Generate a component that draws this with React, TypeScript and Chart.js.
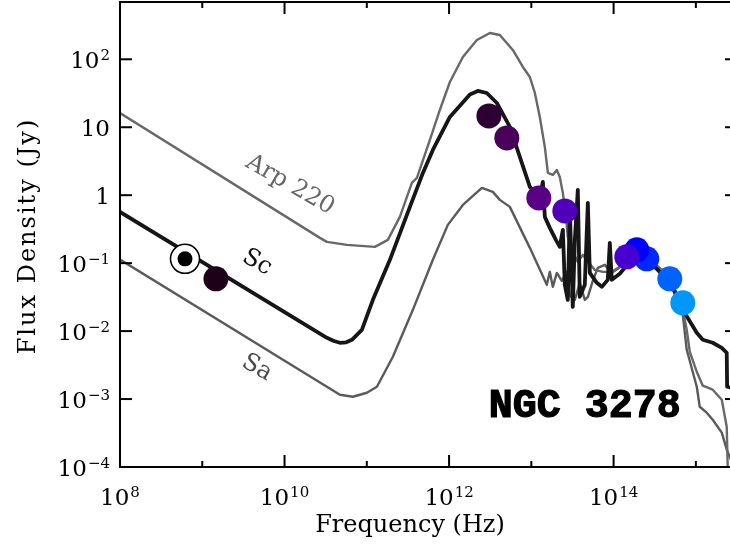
import { useEffect, useRef } from 'react';
import { Chart, registerables } from 'chart.js';

Chart.register(...registerables);

// Values, stored as log10(frequency / Hz) and log10(flux density / Jy)
const arpLogNu = [8.0, 10.43, 10.515, 10.758, 11.098, 11.256, 11.402, 11.548, 11.609, 11.767, 11.888, 12.01, 12.168, 12.338, 12.496, 12.617, 12.775, 12.897, 12.982, 13.043, 13.103, 13.164, 13.201, 13.261, 13.31, 13.346, 13.383, 13.419, 13.443, 13.492, 13.565, 13.626, 13.687, 13.772, 13.869, 13.978, 14.075, 14.172, 14.294, 14.416, 14.561, 14.707, 14.841, 14.889, 14.926, 15.011, 15.084, 15.205, 15.315, 15.375, 15.388];
const arpLogF = [1.21, -0.628, -0.687, -0.731, -0.76, -0.657, -0.319, 0.181, 0.254, 0.813, 1.254, 1.666, 2.034, 2.284, 2.387, 2.357, 2.137, 1.887, 1.74, 1.504, 1.151, 0.71, 0.328, 0.299, 0.372, 0.269, 0.034, -0.29, -0.613, -0.804, -0.981, -0.878, -0.981, -1.099, -1.128, -1.128, -1.054, -0.922, -0.834, -0.922, -1.069, -1.275, -1.687, -1.981, -2.304, -2.599, -2.804, -2.863, -3.01, -3.407, -4.05];

const scLogNu = [8.0, 10.515, 10.6, 10.673, 10.75, 10.819, 10.94, 11.074, 11.281, 11.524, 11.682, 11.803, 12.01, 12.253, 12.35, 12.459, 12.581, 12.739, 12.86, 12.982, 13.103, 13.14, 13.164, 13.225, 13.298, 13.346, 13.383, 13.407, 13.443, 13.468, 13.504, 13.529, 13.565, 13.589, 13.65, 13.687, 13.711, 13.796, 13.857, 13.929, 13.954, 13.978, 14.075, 14.136, 14.221, 14.318, 14.44, 14.561, 14.719, 14.841, 15.011, 15.084, 15.205, 15.315, 15.375, 15.38, 15.5];
const scLogF = [-0.246, -2.099, -2.145, -2.172, -2.165, -2.128, -1.981, -1.54, -0.951, -0.172, 0.328, 0.666, 1.151, 1.481, 1.534, 1.504, 1.357, 1.004, 0.563, 0.122, -0.025, 0.196, -0.319, -0.481, -0.657, -0.76, -0.51, -1.319, -1.54, -0.216, -1.643, -0.657, 0.078, -1.496, -1.319, -0.113, -1.143, -1.29, -1.349, -1.246, -0.701, -1.246, -1.157, -1.069, -0.981, -0.922, -0.981, -1.128, -1.349, -1.687, -2.025, -2.128, -2.172, -2.246, -2.319, -2.819, -2.85];

const saLogNu = [8.0, 10.673, 10.831, 11.001, 11.123, 11.317, 11.56, 11.803, 11.985, 12.168, 12.399, 12.532, 12.617, 12.739, 12.982, 13.188, 13.225, 13.261, 13.31, 13.37, 13.431, 13.468, 13.529, 13.589, 13.65, 13.687, 13.747, 13.808, 13.893, 13.978, 14.051, 14.136, 14.258, 14.379, 14.537, 14.683, 14.841, 14.889, 15.011, 15.047, 15.132, 15.205, 15.315, 15.375, 15.5];
const saLogF = [-0.946, -2.937, -2.966, -2.907, -2.819, -2.378, -1.687, -0.951, -0.437, -0.143, 0.107, 0.049, -0.069, -0.172, -0.775, -1.319, -1.128, -1.349, -1.143, -1.26, -1.128, -1.481, -1.54, -1.29, -1.54, -1.496, -1.26, -1.069, -1.025, -1.143, -1.084, -0.981, -0.863, -0.922, -1.069, -1.275, -1.76, -2.275, -2.819, -3.113, -3.201, -3.304, -3.495, -3.745, -4.1];

const radioLogNu = [8.79];
const radioLogF = [-0.937];

const obsLogNu = [9.166, 12.484, 12.702, 13.091, 13.407, 14.16, 14.282, 14.403, 14.683, 14.841];
const obsLogF = [-1.231, 1.166, 0.843, -0.04, -0.231, -0.907, -0.804, -0.937, -1.231, -1.584];
const obsColors = ['#1e0018', '#2c0032', '#4a005a', '#5a0085', '#4f00b8', '#4800d2', '#0000ff', '#0028ff', '#0062ff', '#0098f8'];

const xMajorExps = [8, 10, 12, 14];
const xMinorExps = [9, 11, 13, 15];
const yMajorExps = [-4, -3, -2, -1, 0, 1, 2];

const X_MIN_EXP = 8;
const X_MAX_EXP = 15.5;
const Y_MIN_EXP = -4;
const Y_MAX_EXP = 2.843;

const SERIF = "'DejaVu Serif', serif";

const toXY = (lx: number[], ly: number[]) => lx.map((v, i) => ({ x: 10 ** v, y: 10 ** ly[i] }));

function drawPow(ctx: CanvasRenderingContext2D, e: number, x: number, yBase: number, align: 'center' | 'right') {
  const base = e === 0 ? '1' : '10';
  const exp = e === 0 || e === 1 ? '' : String(e).replace('-', '\u2212');
  ctx.font = `23px ${SERIF}`;
  const wb = ctx.measureText(base).width;
  ctx.font = `15px ${SERIF}`;
  const we = exp ? ctx.measureText(exp).width + 1 : 0;
  const total = wb + we;
  const x0 = align === 'center' ? x - total / 2 : x - total;
  ctx.textAlign = 'left';
  ctx.textBaseline = 'alphabetic';
  ctx.fillStyle = '#000';
  ctx.font = `23px ${SERIF}`;
  ctx.fillText(base, x0, yBase);
  if (exp) {
    ctx.font = `15px ${SERIF}`;
    ctx.fillText(exp, x0 + wb + 1, yBase - 8);
  }
}

const framePlugin = {
  id: 'frame',
  afterDraw(chart: any) {
    const { ctx, chartArea: a, scales } = chart;
    const x = scales.x, y = scales.y;
    ctx.save();
    ctx.strokeStyle = '#000';
    ctx.lineWidth = 2;
    ctx.strokeRect(a.left, a.top, a.right - a.left, a.bottom - a.top);
    const seg = (x1: number, y1: number, x2: number, y2: number) => {
      ctx.beginPath(); ctx.moveTo(x1, y1); ctx.lineTo(x2, y2); ctx.stroke();
    };
    for (const e of xMajorExps) {
      const px = x.getPixelForValue(10 ** e);
      seg(px, a.bottom, px, a.bottom - 12);
      seg(px, a.top, px, a.top + 12);
      drawPow(ctx, e, px, a.bottom + 38, 'center');
    }
    for (const e of xMinorExps) {
      const px = x.getPixelForValue(10 ** e);
      seg(px, a.bottom, px, a.bottom - 6);
      seg(px, a.top, px, a.top + 6);
    }
    for (const e of yMajorExps) {
      const py = y.getPixelForValue(10 ** e);
      seg(a.left, py, a.left + 12, py);
      seg(a.right, py, a.right - 12, py);
      drawPow(ctx, e, a.left - 10, py + 9, 'right');
    }
    // axis titles
    ctx.fillStyle = '#000';
    ctx.font = `24px ${SERIF}`;
    ctx.textAlign = 'center';
    ctx.textBaseline = 'alphabetic';
    ctx.fillText('Frequency (Hz)', 410, 532);
    ctx.save();
    ctx.translate(35, 236);
    ctx.rotate(-Math.PI / 2);
    (ctx as any).letterSpacing = '2px';
    ctx.fillText('Flux Density (Jy)', 0, 0);
    ctx.restore();
    ctx.restore();
  },
};

const textPlugin = {
  id: 'annotTexts',
  afterDraw(chart: any) {
    const { ctx, scales } = chart;
    const x = scales.x, y = scales.y;
    const put = (text: string, lx: number, ly: number, color: string, font: string, angleDeg: number, stroke = 0) => {
      ctx.save();
      ctx.translate(x.getPixelForValue(10 ** lx), y.getPixelForValue(10 ** ly));
      ctx.rotate((angleDeg * Math.PI) / 180);
      ctx.fillStyle = color;
      ctx.font = font;
      ctx.textAlign = 'center';
      ctx.textBaseline = 'middle';
      ctx.fillText(text, 0, 0);
      if (stroke > 0) {
        ctx.strokeStyle = color;
        ctx.lineWidth = stroke;
        ctx.strokeText(text, 0, 0);
      }
      ctx.restore();
    };
    put('Arp 220', 10.066, 0.151, '#666666', `24px ${SERIF}`, 30);
    put('Sc', 9.665, -0.99, '#111111', `24px ${SERIF}`, 30);
    put('Sa', 9.665, -2.54, '#4a4a4a', `24px ${SERIF}`, 30);
    put('NGC 3278', 13.65, -3.11, '#000000', `bold 40px 'Liberation Mono', monospace`, 0, 1.2);
  },
};

export default function App() {
  const ref = useRef<HTMLCanvasElement>(null);
  useEffect(() => {
    const obsOrder = obsLogNu.map((_, i) => i).reverse();
    const chart = new Chart(ref.current as HTMLCanvasElement, {
      type: 'scatter',
      data: {
        datasets: [
          {
            label: 'radio core',
            data: toXY(radioLogNu, radioLogF),
            pointRadius: 7.5,
            pointBackgroundColor: '#000',
            pointBorderWidth: 0,
            order: 0,
          },
          {
            label: 'radio ring',
            data: toXY(radioLogNu, radioLogF),
            pointRadius: 14.5,
            pointBackgroundColor: '#fff',
            pointBorderColor: '#000',
            pointBorderWidth: 1.5,
            order: 1,
          },
          {
            label: 'NGC 3278',
            data: obsOrder.map((i) => ({ x: 10 ** obsLogNu[i], y: 10 ** obsLogF[i] })),
            pointRadius: 12.5,
            pointBackgroundColor: obsOrder.map((i) => obsColors[i]),
            pointBorderWidth: 0,
            order: 2,
          },
          {
            label: 'Sc',
            data: toXY(scLogNu, scLogF),
            showLine: true,
            borderColor: '#161616',
            borderWidth: 3.8,
            borderJoinStyle: 'round',
            pointRadius: 0,
            order: 3,
          },
          {
            label: 'Arp 220',
            data: toXY(arpLogNu, arpLogF),
            showLine: true,
            borderColor: '#686868',
            borderWidth: 2.4,
            borderJoinStyle: 'round',
            pointRadius: 0,
            order: 4,
          },
          {
            label: 'Sa',
            data: toXY(saLogNu, saLogF),
            showLine: true,
            borderColor: '#5a5a5a',
            borderWidth: 2.4,
            borderJoinStyle: 'round',
            pointRadius: 0,
            order: 5,
          },
        ],
      },
      options: {
        animation: false,
        responsive: false,
        events: [],
        layout: { autoPadding: false, padding: { top: 2, right: 8, left: 0, bottom: 0 } },
        plugins: { legend: { display: false }, tooltip: { enabled: false } },
        scales: {
          x: {
            type: 'logarithmic',
            position: 'bottom',
            min: 10 ** X_MIN_EXP,
            max: 10 ** X_MAX_EXP,
            grid: { display: false, drawTicks: false },
            border: { display: false },
            ticks: { display: false },
            title: { display: false },
            afterFit: (s: any) => {
              s.height = 83;
              s.paddingLeft = 0;
              s.paddingRight = 0;
            },
          },
          y: {
            type: 'logarithmic',
            position: 'left',
            min: 10 ** Y_MIN_EXP,
            max: 10 ** Y_MAX_EXP,
            grid: { display: false, drawTicks: false },
            border: { display: false },
            ticks: { display: false },
            title: { display: false },
            afterFit: (s: any) => {
              s.width = 120;
              s.paddingTop = 0;
              s.paddingBottom = 0;
            },
          },
        },
      },
      plugins: [framePlugin, textPlugin],
    } as any);
    return () => chart.destroy();
  }, []);
  return (
    <div style={{ position: 'fixed', left: 0, top: 0, width: 730, height: 550, overflow: 'hidden', background: '#fff' }}>
      <canvas ref={ref} width={745} height={550} style={{ display: 'block' }} />
    </div>
  );
}
